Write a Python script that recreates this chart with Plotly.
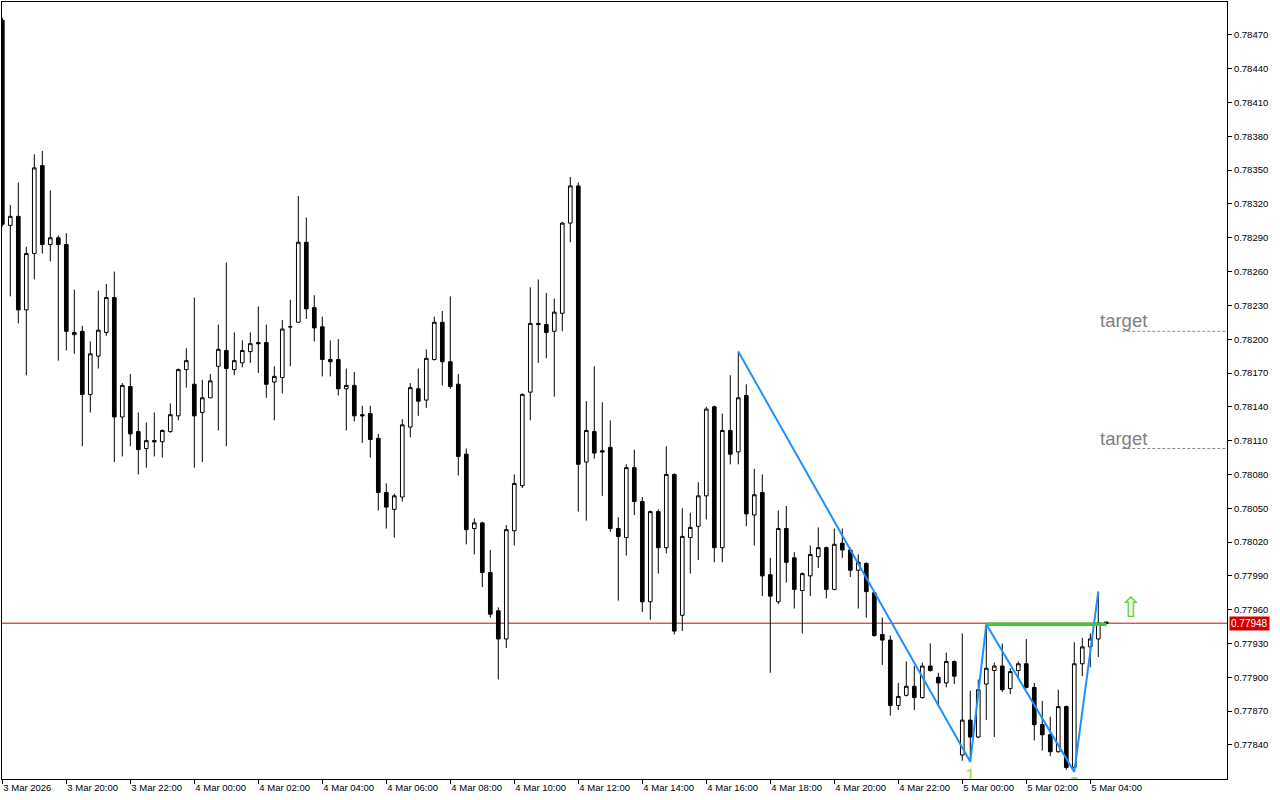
import plotly.graph_objects as go

# ---- data (M15 bars, 3 Mar 18:00 .. 5 Mar 04:30) ----
opens = [0.78483,0.78301,0.78309,0.78226,0.78276,0.78354,0.78284,0.78290,0.78284,0.78204,
         0.78207,0.78151,0.78185,0.78206,0.78237,0.78131,0.78158,0.78118,0.78103,0.78110,
         0.78109,0.78118,0.78132,0.78173,0.78160,0.78135,0.78148,0.78176,0.78190,0.78173,
         0.78179,0.78189,0.78197,0.78197,0.78162,0.78166,0.78211,0.78215,0.78286,0.78228,
         0.78211,0.78182,0.78182,0.78156,0.78159,0.78133,0.78134,0.78112,0.78064,0.78049,
         0.78060,0.78122,0.78156,0.78146,0.78182,0.78215,0.78180,0.78160,0.78098,0.78032,
         0.78037,0.77993,0.77959,0.77934,0.78030,0.78070,0.78153,0.78214,0.78213,0.78207,
         0.78223,0.78303,0.78336,0.78091,0.78118,0.78101,0.78104,0.78032,0.78024,0.78086,
         0.78056,0.77967,0.78047,0.78015,0.78080,0.77955,0.78024,0.78034,0.78061,0.78140,
         0.78015,0.78119,0.78100,0.78150,0.78044,0.78064,0.77991,0.77967,0.78032,0.78006,
         0.77977,0.77990,0.78007,0.78015,0.77978,0.78019,0.78013,0.77995,0.78001,0.77975,
         0.77938,0.77933,0.77875,0.77884,0.77892,0.77882,0.77910,0.77900,0.77895,0.77914,
         0.77831,0.77862,0.77847,0.77894,0.77906,0.77910,0.77890,0.77906,0.77912,0.77891,
         0.77858,0.77849,0.77834,0.77874,0.77820,0.77912,0.77927,0.77934,0.77949]
highs = [0.78485,0.78319,0.78339,0.78282,0.78364,0.78367,0.78332,0.78292,0.78294,0.78244,
         0.78212,0.78198,0.78243,0.78249,0.78260,0.78161,0.78169,0.78135,0.78126,0.78135,
         0.78120,0.78143,0.78174,0.78192,0.78237,0.78164,0.78169,0.78213,0.78268,0.78206,
         0.78199,0.78206,0.78229,0.78213,0.78176,0.78217,0.78235,0.78327,0.78308,0.78239,
         0.78220,0.78199,0.78200,0.78174,0.78171,0.78141,0.78141,0.78116,0.78072,0.78063,
         0.78129,0.78161,0.78174,0.78191,0.78220,0.78225,0.78238,0.78169,0.78103,0.78041,
         0.78038,0.78013,0.77962,0.78035,0.78080,0.78152,0.78246,0.78253,0.78241,0.78236,
         0.78304,0.78344,0.78339,0.78145,0.78176,0.78144,0.78128,0.78042,0.78089,0.78102,
         0.78060,0.78048,0.78049,0.78105,0.78081,0.78050,0.78046,0.78073,0.78140,0.78141,
         0.78134,0.78168,0.78189,0.78160,0.78085,0.78080,0.78006,0.78048,0.78052,0.78011,
         0.77993,0.78017,0.78033,0.78016,0.78032,0.78032,0.78015,0.78009,0.78002,0.77976,
         0.77953,0.77937,0.77895,0.77914,0.77910,0.77913,0.77930,0.77904,0.77922,0.77915,
         0.77939,0.77888,0.77898,0.77947,0.77913,0.77930,0.77908,0.77914,0.77934,0.77895,
         0.77879,0.77865,0.77889,0.77875,0.77931,0.77935,0.77939,0.77976,0.77949]
lows = [0.78300,0.78238,0.78214,0.78168,0.78253,0.78276,0.78269,0.78181,0.78190,0.78187,
        0.78105,0.78135,0.78174,0.78203,0.78091,0.78096,0.78105,0.78080,0.78086,0.78096,
        0.78095,0.78117,0.78128,0.78157,0.78086,0.78091,0.78148,0.78119,0.78105,0.78168,
        0.78175,0.78179,0.78170,0.78148,0.78128,0.78152,0.78176,0.78215,0.78218,0.78198,
        0.78167,0.78167,0.78150,0.78119,0.78127,0.78108,0.78095,0.78048,0.78032,0.78024,
        0.78056,0.78113,0.78132,0.78139,0.78181,0.78159,0.78156,0.78079,0.78018,0.78009,
        0.77980,0.77953,0.77898,0.77926,0.78017,0.78068,0.78128,0.78179,0.78183,0.78149,
        0.78207,0.78286,0.78047,0.78039,0.78094,0.78061,0.78029,0.77968,0.78008,0.78044,
        0.77958,0.77951,0.77992,0.78010,0.77938,0.77941,0.77992,0.78004,0.78040,0.78002,
        0.78002,0.78089,0.78089,0.78034,0.78017,0.77972,0.77904,0.77965,0.77984,0.77961,
        0.77939,0.77972,0.77997,0.77970,0.77977,0.78006,0.77989,0.77961,0.77953,0.77936,
        0.77911,0.77866,0.77871,0.77883,0.77871,0.77881,0.77905,0.77874,0.77891,0.77894,
        0.77826,0.77825,0.77846,0.77862,0.77847,0.77887,0.77885,0.77898,0.77890,0.77844,
        0.77835,0.77830,0.77833,0.77818,0.77816,0.77901,0.77909,0.77918,0.77947]
closes = [0.78302,0.78309,0.78226,0.78276,0.78352,0.78284,0.78290,0.78284,0.78207,0.78206,
          0.78151,0.78187,0.78208,0.78237,0.78131,0.78159,0.78116,0.78102,0.78110,0.78109,
          0.78119,0.78133,0.78173,0.78181,0.78132,0.78148,0.78163,0.78191,0.78174,0.78181,
          0.78190,0.78196,0.78196,0.78160,0.78167,0.78209,0.78211,0.78286,0.78227,0.78210,
          0.78182,0.78180,0.78156,0.78159,0.78132,0.78132,0.78111,0.78064,0.78051,0.78061,
          0.78124,0.78157,0.78145,0.78183,0.78215,0.78180,0.78158,0.78096,0.78031,0.78037,
          0.77993,0.77956,0.77934,0.78031,0.78072,0.78151,0.78214,0.78213,0.78206,0.78224,
          0.78303,0.78336,0.78089,0.78119,0.78099,0.78100,0.78032,0.78025,0.78086,0.78056,
          0.77967,0.78047,0.78015,0.78080,0.77941,0.78025,0.78033,0.78061,0.78138,0.78015,
          0.78119,0.78098,0.78148,0.78045,0.78062,0.77990,0.77972,0.78032,0.78002,0.77978,
          0.77992,0.78009,0.78015,0.77978,0.78018,0.78013,0.77995,0.78002,0.77976,0.77937,
          0.77933,0.77875,0.77883,0.77892,0.77882,0.77910,0.77906,0.77895,0.77914,0.77901,
          0.77862,0.77847,0.77889,0.77908,0.77910,0.77889,0.77905,0.77912,0.77891,0.77858,
          0.77849,0.77834,0.77874,0.77820,0.77912,0.77927,0.77934,0.77948,0.77948]

tick_labels = ["3 Mar 2026", "3 Mar 20:00", "3 Mar 22:00", "4 Mar 00:00", "4 Mar 02:00",
               "4 Mar 04:00", "4 Mar 06:00", "4 Mar 08:00", "4 Mar 10:00", "4 Mar 12:00",
               "4 Mar 14:00", "4 Mar 16:00", "4 Mar 18:00", "4 Mar 20:00", "4 Mar 22:00",
               "5 Mar 00:00", "5 Mar 02:00", "5 Mar 04:00"]
bars_per_label = 8  # 2 hours of M15 bars
price_ticks = [0.77840, 0.77870, 0.77900, 0.77930, 0.77960, 0.77990, 0.78020, 0.78050,
               0.78080, 0.78110, 0.78140, 0.78170, 0.78200, 0.78230, 0.78260, 0.78290,
               0.78320, 0.78350, 0.78380, 0.78410, 0.78440, 0.78470]

zigzag_bar = [92, 121, 123, 134, 137]
zigzag_price = [0.78189, 0.77825, 0.77947, 0.77816, 0.77976]
breakout_bars = [123, 138]
breakout_price = [0.77947, 0.77947]
wave_labels = ["1", "2"]
wave_bars = [121, 134]
wave_label_price = [0.77812, 0.77805]
target_prices = [0.78207, 0.78103]
target_start_bar = 140
target_text_bar = 137
arrow_bar = 141
arrow_price = 0.77962
current_price = 0.77948

x = list(range(len(opens)))
tick_vals = [i * bars_per_label for i in range(len(tick_labels))]

X_MIN, X_MAX = -0.0375, 153.09
Y_MIN, Y_MAX = 0.7780975, 0.784992

fig = go.Figure()
fig.add_trace(go.Candlestick(
    x=x, open=opens, high=highs, low=lows, close=closes,
    increasing=dict(fillcolor="white", line=dict(color="black", width=1)),
    decreasing=dict(fillcolor="black", line=dict(color="black", width=1)),
    whiskerwidth=0, hoverinfo="skip", showlegend=False))

fig.add_trace(go.Scatter(x=zigzag_bar, y=zigzag_price, mode="lines",
                         line=dict(color="#1E90FF", width=2), hoverinfo="skip", showlegend=False))
fig.add_trace(go.Scatter(x=breakout_bars, y=breakout_price, mode="lines",
                         line=dict(color="#3CC83C", width=3.5), hoverinfo="skip", showlegend=False))
fig.add_trace(go.Scatter(x=wave_bars, y=wave_label_price, mode="text", text=wave_labels,
                         textposition="middle center", cliponaxis=True,
                         textfont=dict(family="Liberation Sans", size=17, color="#8EDB4A"),
                         hoverinfo="skip", showlegend=False))

shapes = [dict(type="line", xref="paper", x0=0, x1=1, yref="y", y0=current_price, y1=current_price,
               line=dict(color="#D80000", width=1), layer="below")]
for tp in target_prices:
    shapes.append(dict(type="line", xref="x", x0=target_start_bar, x1=X_MAX, yref="y", y0=tp, y1=tp,
                       line=dict(color="#8C8C8C", width=1, dash="3px,2px")))

annotations = []
for tp in target_prices:
    annotations.append(dict(x=target_text_bar, y=tp, xref="x", yref="y", text="target",
                            showarrow=False, xanchor="left", yanchor="bottom", yshift=-2,
                            font=dict(family="Liberation Sans", size=18.5, color="#808080")))
annotations.append(dict(x=arrow_bar, y=arrow_price, xref="x", yref="y", text="⇧", showarrow=False,
                        font=dict(family="DejaVu Sans", size=28, color="#5FCF3A")))
annotations.append(dict(x=1, y=current_price, xref="paper", yref="y", text=f"{current_price:.5f}",
                        showarrow=False, xanchor="left", xshift=2, bgcolor="#D00000", borderpad=1,
                        font=dict(family="Liberation Sans", size=10, color="white")))

axis_font = dict(family="Liberation Sans", size=9.5, color="black")
fig.update_layout(
    width=1280, height=800,
    margin=dict(l=2, r=53, t=2, b=21, pad=0),
    paper_bgcolor="white", plot_bgcolor="white",
    boxgap=0.35,
    shapes=shapes, annotations=annotations, showlegend=False,
    xaxis=dict(range=[X_MIN, X_MAX], tickvals=tick_vals, ticktext=tick_labels,
               ticks="outside", ticklen=4, tickcolor="black", tickwidth=1,
               ticklabelposition="outside right", tickfont=axis_font,
               showline=True, linecolor="black", linewidth=1, mirror=True,
               showgrid=False, zeroline=False, rangeslider=dict(visible=False), automargin=False),
    yaxis=dict(range=[Y_MIN, Y_MAX], side="right", tickvals=price_ticks, tickformat=".5f",
               ticks="outside", ticklen=4, tickcolor="black", tickwidth=1, tickfont=axis_font,
               showline=True, linecolor="black", linewidth=1, mirror=True,
               showgrid=False, zeroline=False, automargin=False),
)

fig.write_html("out.html", config={"displayModeBar": False},
               post_script="document.body.style.margin='0';document.body.style.overflow='hidden';")
